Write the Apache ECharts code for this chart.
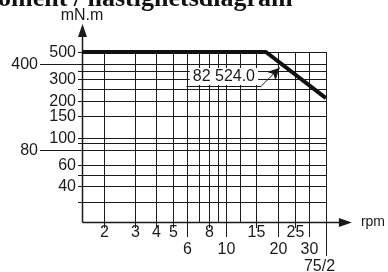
<!DOCTYPE html>
<html>
<head>
<meta charset="utf-8">
<script src="https://cdn.jsdelivr.net/npm/echarts@6.0.0/dist/echarts.min.js"></script>
<style>
  html, body { margin: 0; padding: 0; background: #fff; }
  #chart { width: 388px; height: 272px; }
</style>
</head>
<body>
<div id="chart"></div>
<script>
// axis ranges (log scales)
const rpmMin = 1.5, rpmMax = 37.5;
const torqueMin = 20.5, torqueMax = 500;

// vertical grid lines and their labels ('' = no label)
const rpmGrid   = [2, 3, 4, 5, 6, 7, 8, 9, 10, 12, 15, 20, 25, 30, 37.5];
const rpmLabels = ['2', '3', '4', '5', '6', '', '8', '', '10', '', '15', '20', '25', '30', '75/2'];

// horizontal grid lines and their labels
const torqueGrid   = [30, 40, 50, 60, 80, 90, 100, 150, 200, 250, 300, 350, 400, 500];
const torqueLabels = ['', '40', '', '60', '80', '', '100', '150', '200', '', '300', '', '400', '500'];

// torque curve
const curveRpm    = [1.5, 17, 37.5];
const curveTorque = [500, 500, 210];

// annotation
const noteText = '82 524.0';
const noteLine = [[5.95, 264], [16, 264]];
const noteArrow = [[16, 264], [20.4, 372]];

// layout of labels that sit lower / further out
const rowOf = { '6': 1, '10': 1, '20': 1, '30': 1, '75/2': 2 };
const rowTick = [6, 15, 34];
const rowText = [11, 28, 45];
const farLabels = ['80', '400'];

const INK = '#1a1a1a';
const FONT = '16px "Liberation Sans", Arial, sans-serif';
const px = v => Math.round(v) + 0.5;

function renderRpm(params, api) {
  const v = api.value(0);
  const lab = rpmLabels[params.dataIndex];
  const t = api.coord([v, torqueMax]);
  const b = api.coord([v, torqueMin]);
  const x = px(b[0]);
  const kids = [{ type: 'line', shape: { x1: x, y1: Math.round(t[1]), x2: x, y2: Math.round(b[1]) }, style: { stroke: INK, lineWidth: 1 } }];
  if (lab) {
    const row = rowOf[lab] || 0;
    kids.push({ type: 'line', shape: { x1: x, y1: b[1], x2: x, y2: b[1] + rowTick[row] }, style: { stroke: INK, lineWidth: 1 } });
    kids.push({ type: 'text', x: x + (row === 2 ? -7 : 0), y: b[1] + rowText[row],
      style: { text: lab, font: FONT, fill: INK, align: 'center', verticalAlign: 'middle' } });
  }
  return { type: 'group', children: kids };
}

function renderTorque(params, api) {
  const v = api.value(1);
  const lab = torqueLabels[params.dataIndex];
  const l = api.coord([rpmMin, v]);
  const r = api.coord([rpmMax, v]);
  const y = px(l[1]);
  const far = farLabels.indexOf(lab) >= 0;
  const tick = far ? 42 : 4;
  const kids = [{ type: 'line', shape: { x1: Math.round(l[0]) - tick, y1: y, x2: Math.round(r[0]) + 1, y2: y }, style: { stroke: INK, lineWidth: 1 } }];
  if (lab) {
    kids.push({ type: 'text', x: Math.round(l[0]) - tick - 2, y: y,
      style: { text: lab, font: FONT, fill: INK, align: 'right', verticalAlign: 'middle' } });
  }
  return { type: 'group', children: kids };
}

function renderAxes(params, api) {
  const o = api.coord([rpmMin, torqueMin]);
  const xe = api.coord([rpmMax, torqueMin]);
  const ye = api.coord([rpmMin, torqueMax]);
  const x0 = px(o[0]), y0 = px(o[1]);
  const xEnd = xe[0] + 26, yEnd = ye[1] - 28;
  return { type: 'group', children: [
    { type: 'line', shape: { x1: x0, y1: y0, x2: xEnd - 8, y2: y0 }, style: { stroke: INK, lineWidth: 1.5 } },
    { type: 'polygon', shape: { points: [[xEnd, y0], [xEnd - 13, y0 - 4.5], [xEnd - 13, y0 + 4.5]] }, style: { fill: INK } },
    { type: 'line', shape: { x1: x0, y1: y0, x2: x0, y2: yEnd + 8 }, style: { stroke: INK, lineWidth: 1.5 } },
    { type: 'polygon', shape: { points: [[x0, yEnd], [x0 - 4.5, yEnd + 13], [x0 + 4.5, yEnd + 13]] }, style: { fill: INK } }
  ] };
}

const chart = echarts.init(document.getElementById('chart'), null, { renderer: 'canvas' });
chart.setOption({
  animation: false,
  backgroundColor: '#fff',
  title: {
    text: 'oment / hastighetsdiagram', left: -2, top: -14, padding: 0,
    textStyle: { fontFamily: '"Liberation Serif", "Times New Roman", serif', fontWeight: 'bold', fontSize: 26, color: '#111' }
  },
  grid: { left: 82, right: 58, top: 52, bottom: 50 },
  xAxis: {
    type: 'log', logBase: 10, min: rpmMin, max: rpmMax,
    name: 'rpm', nameLocation: 'end', nameGap: 35,
    nameTextStyle: { fontFamily: 'Liberation Sans', fontSize: 14, color: INK, verticalAlign: 'middle' },
    axisLine: { show: false }, axisTick: { show: false }, axisLabel: { show: false }, splitLine: { show: false }
  },
  yAxis: {
    type: 'log', logBase: 10, min: torqueMin, max: torqueMax,
    name: 'mN.m', nameLocation: 'end', nameGap: 28,
    nameTextStyle: { fontFamily: 'Liberation Sans', fontSize: 16, color: INK, align: 'center' },
    axisLine: { show: false }, axisTick: { show: false }, axisLabel: { show: false }, splitLine: { show: false }
  },
  series: [
    { type: 'custom', renderItem: renderRpm, data: rpmGrid.map(v => [v, torqueMin]), silent: true, z: 1 },
    { type: 'custom', renderItem: renderTorque, data: torqueGrid.map(v => [rpmMin, v]), silent: true, z: 1 },
    { type: 'custom', renderItem: renderAxes, data: [[rpmMin, torqueMin]], silent: true, z: 2 },
    {
      type: 'line', data: curveRpm.map((r, i) => [r, curveTorque[i]]),
      symbol: 'none', z: 5, lineStyle: { color: '#111', width: 4 },
      markLine: {
        silent: true, animation: false, z: 6,
        lineStyle: { color: INK, width: 1, type: 'solid' },
        label: { show: false },
        data: [
          [{ coord: noteLine[0], symbol: 'none' },
           { coord: noteLine[1], symbol: 'none',
             label: { show: true, formatter: noteText, position: 'insideMiddleTop', distance: 1,
               fontFamily: 'Liberation Sans', fontSize: 16, color: INK, backgroundColor: '#fff', padding: [1, 3, 0, 3] } }],
          [{ coord: noteArrow[0], symbol: 'none' }, { coord: noteArrow[1], symbol: 'arrow', symbolSize: [9, 12] }]
        ]
      }
    }
  ]
});
</script>
</body>
</html>
